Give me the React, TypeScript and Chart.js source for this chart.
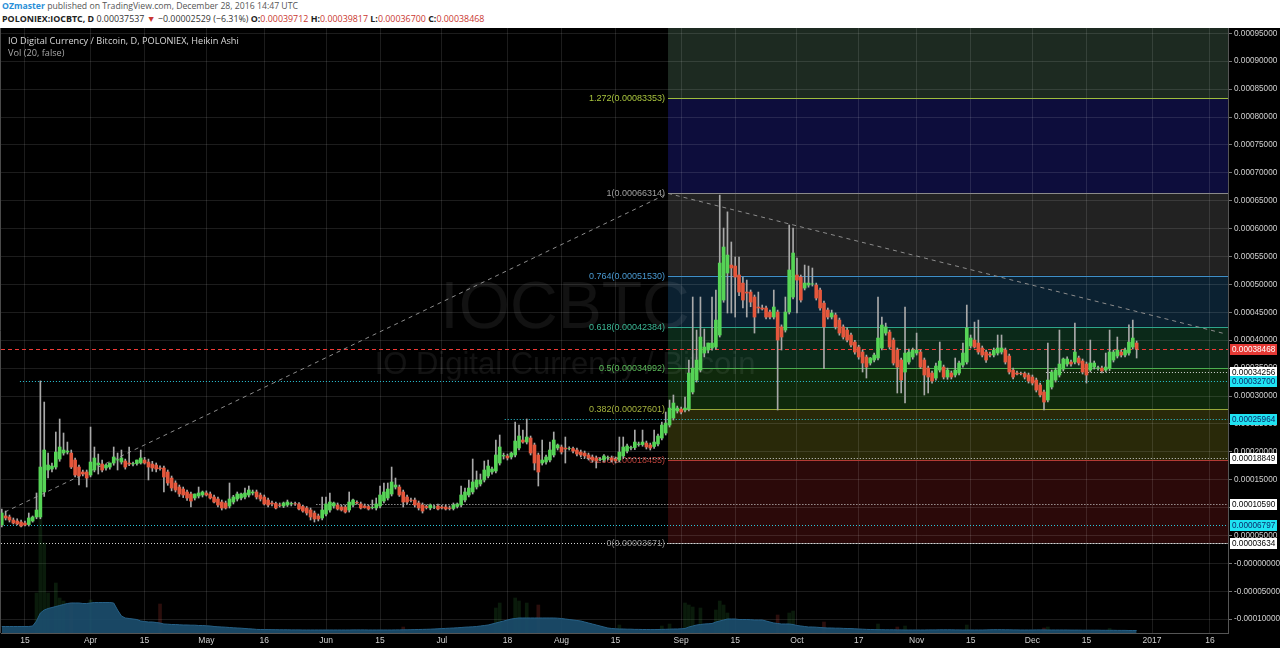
import React, { useEffect, useRef } from 'react';
import { Chart, registerables } from 'chart.js';

Chart.register(...registerables);

// ---------- data (values in satoshi; day index 0 = 2016-03-09) ----------
const haOpen = [
  6880, 8510, 8320, 7780, 7600, 7420, 7240, 6960, 7600, 8320,
  8320, 12800, 16740, 16920, 17270, 18710, 19780, 19960, 19780, 18530,
  17270, 16380, 16380, 15840, 16740, 17630, 17810, 17100, 17270, 17990,
  18530, 18170, 18350, 17990, 17810, 17900, 18000, 18530, 18170, 17810,
  17630, 17100, 17100, 16380, 15300, 14410, 13690, 13330, 12800, 12440,
  11720, 12080, 12260, 12620, 12440, 11900, 11540, 11000, 10830, 10290,
  11000, 11540, 11720, 11900, 12260, 12620, 12800, 12260, 11900, 11360,
  10830, 10740, 10470, 10290, 10470, 10650, 10700, 10650, 10200, 9930,
  9570, 9030, 8500, 8140, 8850, 9570, 10290, 10470, 10110, 10110,
  9570, 10470, 10920, 10650, 10290, 10200, 10000, 9930, 10290, 11180,
  11720, 12440, 13690, 13690, 12800, 11900, 11360, 11360, 10830, 10470,
  10200, 9930, 10100, 10290, 10110, 10110, 9930, 9840, 10200, 10470,
  11360, 12260, 12800, 13690, 14230, 14950, 15660, 16380, 16560, 17990,
  19250, 19250, 19070, 19430, 20680, 22110, 21750, 22470, 21220, 19430,
  17990, 18170, 18530, 19430, 20680, 20860, 20680, 20590, 20590, 20320,
  19960, 19780, 19430, 19070, 18890, 18620, 18530, 18900, 18900, 18710,
  18530, 19250, 20140, 20680, 20770, 21300, 21300, 21570, 21220, 20950,
  21400, 22470, 23370, 24800, 26060, 27310, 27660, 27490, 27660, 30720,
  32860, 34650, 37700, 38240, 38600, 38780, 40930, 47200, 52040, 53470,
  53290, 51680, 50240, 48630, 48630, 47740, 45950, 45770, 45770, 45050,
  44150, 45050, 42390, 41820, 45050, 47740, 51680, 51320, 49340, 49880,
  50060, 49880, 48990, 46650, 45410, 44150, 44510, 43610, 42390, 41820,
  40930, 39670, 38780, 37880, 36990, 35910, 36450, 36810, 38600, 41280,
  41460, 40030, 38240, 36450, 34300, 36090, 36990, 37700, 37880, 36450,
  35010, 34120, 33220, 34650, 35190, 33400, 34120, 33760, 34120, 35550,
  36090, 38960, 40030, 39490, 38600, 37880, 37520, 37340, 37700, 37880,
  38240, 37160, 34650, 34120, 34030, 34030, 33760, 33400, 32860, 31970,
  30720, 29280, 31610, 32860, 33760, 34830, 35730, 36090, 36090, 36810,
  36270, 35730, 34650, 35190, 35010, 35010, 34650, 34920, 36450, 37160,
  37880, 37340, 37700, 38780, 39490,
];
const haHigh = [
  9750, 9390, 8670, 8140, 8000, 7780, 7600, 9030, 8500, 12620,
  32700, 28920, 19780, 18000, 23550, 25880, 23370, 21750, 20320, 18890,
  17630, 16740, 16740, 24440, 20860, 19600, 18530, 17800, 18000, 20860,
  19780, 20320, 18700, 20860, 18170, 18530, 20320, 19000, 18700, 18300,
  18000, 17500, 17450, 16740, 15660, 14800, 14050, 13690, 13150, 12800,
  12440, 13690, 12980, 13000, 12800, 12260, 11900, 11360, 11180, 14410,
  12200, 12800, 12620, 13510, 13870, 13150, 13150, 12620, 12260, 11720,
  11180, 11000, 10830, 11000, 11360, 11000, 11000, 10900, 10470, 10200,
  9930, 9390, 8850, 11900, 11900, 12620, 11000, 10830, 10470, 10470,
  12800, 11540, 11200, 11000, 10650, 10470, 11360, 11720, 13870, 14410,
  14410, 17270, 15300, 14050, 13150, 12260, 11720, 11720, 11180, 10830,
  10470, 10650, 10400, 10650, 10400, 10470, 10290, 10830, 10830, 13870,
  13510, 14950, 18710, 16560, 16020, 18350, 18530, 17270, 22110, 23010,
  19780, 19600, 19960, 25340, 24800, 23900, 25880, 22830, 21570, 19780,
  22110, 19430, 21750, 23550, 21400, 21220, 22650, 20900, 20860, 20680,
  20320, 20140, 19780, 19430, 19250, 18980, 19500, 19250, 19250, 19070,
  22650, 22650, 21400, 21040, 23900, 21750, 23900, 21930, 21570, 23900,
  23200, 25340, 27130, 29280, 30180, 28200, 28020, 29820, 36450, 47740,
  41820, 47740, 42000, 39500, 47740, 48990, 66000, 60100, 63000, 57600,
  54900, 54900, 51320, 50780, 49000, 48100, 48630, 46300, 46100, 45400,
  48990, 45400, 42750, 47740, 60640, 60100, 54730, 51680, 53470, 53290,
  52940, 50240, 49340, 47000, 45770, 45400, 44870, 43970, 42750, 42200,
  41300, 40000, 39100, 38240, 37340, 36900, 37700, 47740, 44150, 43070,
  41820, 40390, 38600, 36810, 45950, 38400, 38600, 41280, 38240, 36810,
  35370, 34480, 35900, 39670, 35550, 35010, 34480, 36810, 36270, 39490,
  46300, 40930, 43250, 43610, 38960, 38240, 37880, 38600, 40930, 40930,
  38600, 37520, 35010, 34480, 34300, 34300, 34120, 33760, 33220, 32320,
  31070, 39490, 34650, 35010, 41820, 36810, 37000, 36450, 43070, 37160,
  36630, 36090, 40030, 36270, 35370, 35370, 37700, 41820, 38240, 40570,
  38240, 38600, 42750, 43610, 39850,
];
const haLow = [
  6520, 7780, 7420, 7060, 6900, 6520, 6700, 6700, 7400, 8000,
  8000, 12000, 15300, 16400, 16900, 18300, 19400, 19600, 17000, 15500,
  14050, 15700, 13690, 15500, 16400, 16020, 16400, 16700, 16900, 17600,
  16740, 17800, 16900, 17500, 17450, 17600, 17800, 17800, 14950, 16500,
  16400, 16700, 12800, 14000, 13000, 12800, 12000, 11800, 11300, 10110,
  11360, 11720, 11900, 12080, 11540, 10820, 10110, 9570, 9750, 9930,
  10650, 11180, 11360, 11540, 11900, 12260, 11540, 11180, 10470, 10110,
  10300, 9750, 10110, 10000, 10200, 10300, 10400, 9570, 9200, 8670,
  7780, 7420, 7600, 7780, 8500, 9200, 9900, 9570, 9390, 9030,
  9200, 10110, 10600, 9750, 9900, 9570, 9750, 9570, 9930, 10830,
  11360, 12080, 13330, 12000, 10110, 10650, 11000, 10110, 9570, 9030,
  9750, 9600, 9800, 9570, 9750, 9570, 9570, 9570, 9930, 10110,
  11000, 11900, 12440, 13330, 13870, 14590, 15300, 16000, 16200, 17630,
  18700, 18530, 18700, 19070, 20320, 21570, 21400, 19430, 16740, 13870,
  17630, 17800, 18170, 19070, 20320, 19600, 17990, 20320, 19800, 19250,
  19070, 18890, 18530, 18170, 17100, 18350, 18170, 18530, 18170, 17990,
  18170, 18890, 19780, 20320, 20400, 21000, 21000, 20500, 20320, 20600,
  21040, 22110, 23010, 24440, 25700, 26950, 26770, 27130, 27310, 30360,
  32500, 34300, 37000, 37700, 38200, 38400, 40570, 46800, 44870, 44870,
  44150, 48000, 45770, 44150, 46000, 41280, 44870, 45400, 43800, 43800,
  43800, 27490, 38240, 41460, 44700, 47400, 44870, 46830, 49000, 49500,
  49700, 47200, 45400, 34920, 43800, 43800, 42000, 40900, 40200, 39700,
  38800, 37500, 36600, 34300, 33220, 35550, 36090, 36450, 38240, 40900,
  38400, 35550, 30540, 30540, 28740, 35700, 36600, 37340, 34920, 30180,
  30540, 32320, 32860, 34300, 33050, 33000, 33050, 33400, 33760, 35190,
  35730, 38600, 38600, 37500, 37000, 36000, 37000, 37000, 37340, 37520,
  35730, 33940, 33050, 33760, 33760, 33050, 32320, 31970, 30720, 29820,
  27490, 28920, 31250, 32500, 33400, 34480, 35370, 35370, 35730, 35550,
  33940, 32320, 34300, 34830, 34650, 34120, 34300, 34560, 36090, 36810,
  36990, 36990, 37340, 38420, 36810,
];
const haClose = [
  9030, 8140, 7780, 7240, 7060, 6700, 6880, 8140, 8320, 9570,
  17270, 20320, 17630, 17450, 19960, 20860, 20320, 20140, 17270, 15840,
  15660, 16020, 15300, 18170, 18890, 17990, 16740, 17630, 17990, 19070,
  18600, 18890, 17270, 17810, 17900, 18530, 18890, 17990, 17270, 17100,
  16920, 17000, 15480, 14410, 13510, 13150, 12440, 12260, 11720, 11180,
  12440, 12620, 12800, 12260, 11720, 11000, 10470, 9930, 9930, 11540,
  11900, 12440, 12440, 12620, 13150, 12800, 11900, 11540, 10650, 10470,
  10650, 9930, 10400, 10830, 11000, 10740, 10650, 9750, 9390, 9030,
  8320, 7960, 7960, 9570, 10650, 11000, 10830, 9750, 9570, 9210,
  11000, 11360, 10830, 9930, 10000, 9750, 10050, 10650, 12260, 12800,
  13330, 14590, 14050, 12260, 11000, 11000, 11300, 10470, 9930, 9390,
  10000, 10470, 10110, 9750, 9930, 9750, 9840, 10470, 10650, 12260,
  12800, 13510, 14590, 14950, 14950, 16740, 17450, 16920, 19430, 20860,
  19350, 18890, 19780, 21930, 22830, 21750, 22650, 19780, 17990, 16380,
  18530, 19070, 20320, 22110, 21220, 19960, 20500, 20600, 20140, 19610,
  19430, 19250, 18890, 18530, 18350, 18650, 19250, 18950, 18530, 18350,
  19960, 20860, 21040, 20770, 21750, 21400, 21750, 20860, 20680, 21750,
  22830, 24800, 25160, 27840, 28740, 27840, 27130, 27840, 34120, 35010,
  36450, 40570, 38780, 39490, 39490, 43610, 53830, 56700, 55260, 52940,
  51320, 48630, 47200, 48450, 46830, 44150, 45770, 45590, 44150, 44150,
  45950, 40030, 40570, 45050, 52580, 55620, 50780, 47200, 50240, 50240,
  50100, 47560, 45770, 42390, 44150, 44870, 42390, 41280, 40570, 40030,
  39130, 37880, 36990, 35910, 35190, 36810, 37340, 40390, 42720, 42390,
  38780, 35910, 35190, 32860, 37700, 37880, 38240, 38240, 35190, 33760,
  33400, 32680, 35370, 36270, 33400, 34650, 33400, 34650, 35910, 37700,
  42210, 40390, 38780, 37880, 37340, 36450, 37340, 38240, 38600, 38600,
  36090, 34300, 33400, 33940, 34000, 33400, 32680, 32320, 31070, 30180,
  28920, 32860, 34300, 34650, 35730, 36630, 36630, 35730, 37880, 35910,
  34300, 33760, 35910, 35910, 35050, 34480, 35190, 37880, 37880, 38240,
  37340, 38240, 39670, 40390, 38470,
];

// volume moving average (20) per day, arbitrary units
const volumeMA = [
  65, 65, 65, 65, 65, 65, 65, 65, 70,
  120, 200, 230, 245, 255, 265, 275, 285,
  295, 300, 300, 300, 295, 295, 300, 305, 305, 305, 305, 305, 300,
  230, 170, 150, 145, 140, 135, 120, 115, 110, 110, 105, 100,
  90, 88, 85, 85, 82, 80, 80, 78, 78, 75, 75, 72, 70,
  65, 62, 60, 58, 55, 52, 50, 48, 45, 42, 40,
  36, 35, 34, 34, 33, 33, 32, 32, 32, 31, 31, 31, 30, 30, 30, 30, 30, 30, 30, 30,
  30, 30, 30, 30, 30, 31, 31, 31, 31, 30, 30, 30, 30,
  30, 30, 30, 31, 31, 32, 32, 33, 34, 35, 36, 37, 38, 40, 42, 44, 46, 48, 50, 52, 55,
  58, 60, 62, 65, 70, 75, 80, 90, 100, 110, 120,
  130, 140, 145, 150, 150, 150, 150,
  150, 150, 150, 150, 150, 150, 148, 145, 140, 135, 130, 125, 120,
  110, 100, 90, 80, 70, 60, 50,
  45, 42, 40, 40, 38, 38, 36, 36, 35, 35, 34, 34, 35, 36,
  37, 38, 40, 40, 42, 45,
  60, 70, 80, 85, 90, 92, 95,
  110, 120, 130, 140, 140, 140,
  135, 135, 135, 133, 130, 130, 130,
  120, 110, 100, 95, 90, 90, 90, 85,
  75, 70, 65, 60, 60, 58, 55,
  52, 50, 50, 48, 48, 46, 45, 44, 42, 40,
  38, 36, 35, 34, 33, 33, 32, 32, 32, 31, 31, 30, 30, 30, 30, 30, 30, 31, 31, 31,
  32, 32, 32, 32, 31, 31, 30, 30, 30, 30, 30, 30, 31, 32, 33, 33, 33, 32, 32, 31,
  31, 30, 30, 30, 30, 31, 31, 31, 30, 30, 30, 30, 30, 30, 29, 29, 29, 28, 28, 28,
  28, 28, 27, 27, 27, 27, 26, 26, 26, 25, 25, 25,
];
// daily volume bars that stand out above the average
const volDays = [9, 10, 11, 12, 14, 15, 16, 18, 23, 41, 104, 128, 129, 133, 134, 136, 139, 160, 171, 173,
  177, 178, 179, 181, 185, 186, 187, 188, 201, 204, 205, 213, 227, 232, 234, 250, 270, 271, 287];
const volValues = [400, 1200, 900, 400, 500, 350, 320, 300, 330, 290, 60, 250, 300, 350, 320, 300, 280, 80, 70, 90,
  300, 280, 260, 250, 230, 320, 280, 200, 180, 200, 220, 110, 90, 60, 70, 80, 50, 60, 45];

// Fibonacci retracement
const fibLevels = [0, 0.236, 0.382, 0.5, 0.618, 0.764, 1, 1.272];
const fibValues = [3671, 18455, 27601, 34992, 42384, 51530, 66314, 83353];
const fibStartDay = 172.6;

// horizontal lines with price-axis labels
const hLineValues = [38468, 34256, 32700, 25964, 18849, 10590, 6797, 3634];
const hLineStartDays = [-1, 270.5, 4.7, 130.3, 150, 81.5, -1, -1];
const hLineKinds = ['red', 'white', 'cyan', 'cyan', 'white', 'white', 'cyan', 'white'];

// trend lines [startDay, startValue, endDay, endValue]
const trendLines = [
  [0.8, 9210, 172.6, 66314],
  [172.6, 66314, 317.1, 41120],
];

// axes
const xTickDays = [6, 23, 37, 53, 68, 84, 98, 114, 131, 145, 159, 176, 190, 206, 222, 237, 251, 267, 281, 298, 313];
const xTickLabels = ['15', 'Apr', '15', 'May', '16', 'Jun', '15', 'Jul', '18', 'Aug', '15', 'Sep', '15', 'Oct', '17', 'Nov', '15', 'Dec', '15', '2017', '16'];
const yTickValues = [-10000, -5000, 0, 5000, 10000, 15000, 20000, 25000, 30000, 35000, 40000, 45000, 50000,
  55000, 60000, 65000, 70000, 75000, 80000, 85000, 90000, 95000];

// ---------- styles ----------
const GREEN = '#56d456';
const RED = '#e4573c';
const WICK = '#a9a9a9';
const AXIS_FONT = '"Liberation Sans", Arial, sans-serif';
const fibLineColors = ['#8a8a8a', '#b33a34', '#98a83a', '#4caf50', '#2ea58c', '#3f8fc8', '#8a8a8a', '#9fbe3c'];
const fibLabelColors = ['#8f8f8f', '#b8403a', '#a6b43e', '#5cbd5a', '#3cb896', '#4a9ad2', '#a0a0a0', '#a8c43e'];
const fibZoneColors = ['#2b0909', '#292909', '#0f290c', '#0b2919', '#0b2131', '#222222', '#0d0d3c', '#1d2a21'];
const kindStyle: Record<string, { line: string; bg: string; fg: string; dash: number[] }> = {
  red: { line: '#f03a36', bg: '#e53935', fg: '#ffffff', dash: [4, 3] },
  white: { line: '#d4d4d4', bg: '#ffffff', fg: '#000000', dash: [1, 2] },
  cyan: { line: '#2cc9dc', bg: '#1fe3f2', fg: '#0b2a6b', dash: [1, 2] },
};

const fmtPrice = (v: number) => (v === 0 ? '-0.00000000' : (v / 1e8).toFixed(8));

const decorPlugin = {
  id: 'tvDecor',
  beforeDraw(chart: any) {
    const { ctx, chartArea: ca, scales } = chart;
    const xs = scales.x;
    const ys = scales.y;
    ctx.save();
    ctx.fillStyle = '#000';
    ctx.fillRect(0, 0, chart.width, chart.height);
    ctx.beginPath();
    ctx.rect(ca.left, ca.top, ca.right - ca.left, ca.bottom - ca.top);
    ctx.clip();
    const fx = xs.getPixelForValue(fibStartDay);
    for (let k = 0; k < fibValues.length; k++) {
      const lo = ys.getPixelForValue(fibValues[k]);
      const hi = k + 1 < fibValues.length ? ys.getPixelForValue(fibValues[k + 1]) : ca.top;
      ctx.fillStyle = fibZoneColors[k];
      ctx.fillRect(fx, hi, ca.right - fx, lo - hi);
    }
    ctx.fillStyle = 'rgba(255,255,255,0.07)';
    ctx.textAlign = 'center';
    ctx.textBaseline = 'middle';
    ctx.font = '66px "Liberation Sans", Arial, sans-serif';
    ctx.fillText('IOCBTC', 565, 282);
    ctx.font = '31px "Liberation Sans", Arial, sans-serif';
    ctx.fillText('IO Digital Currency / Bitcoin', 565, 337);
    ctx.restore();
  },
  beforeDatasetsDraw(chart: any) {
    const { ctx, chartArea: ca, scales } = chart;
    const xs = scales.x;
    const ys = scales.y;
    ctx.save();
    ctx.beginPath();
    ctx.rect(ca.left, ca.top, ca.right - ca.left, ca.bottom - ca.top);
    ctx.clip();
    const fx = xs.getPixelForValue(fibStartDay);
    ctx.lineWidth = 1;
    ctx.font = '9px "Liberation Sans", Arial, sans-serif';
    ctx.textAlign = 'right';
    ctx.textBaseline = 'middle';
    for (let k = 0; k < fibValues.length; k++) {
      const py = Math.round(ys.getPixelForValue(fibValues[k])) + 0.5;
      ctx.strokeStyle = fibLineColors[k];
      ctx.setLineDash([]);
      ctx.beginPath();
      ctx.moveTo(fx, py);
      ctx.lineTo(ca.right, py);
      ctx.stroke();
      ctx.fillStyle = fibLabelColors[k];
      ctx.fillText(`${fibLevels[k]}(${(fibValues[k] / 1e8).toFixed(8)})`, fx - 3, py);
    }
    for (let k = 0; k < hLineValues.length; k++) {
      const st = kindStyle[hLineKinds[k]];
      const py = Math.round(ys.getPixelForValue(hLineValues[k])) + 0.5;
      const sx = Math.max(ca.left, xs.getPixelForValue(hLineStartDays[k]));
      ctx.strokeStyle = st.line;
      ctx.setLineDash(st.dash);
      ctx.beginPath();
      ctx.moveTo(sx, py);
      ctx.lineTo(ca.right, py);
      ctx.stroke();
    }
    ctx.strokeStyle = '#8c8c8c';
    ctx.setLineDash([4, 4]);
    for (const t of trendLines) {
      ctx.beginPath();
      ctx.moveTo(xs.getPixelForValue(t[0]), ys.getPixelForValue(t[1]));
      ctx.lineTo(xs.getPixelForValue(t[2]), ys.getPixelForValue(t[3]));
      ctx.stroke();
    }
    ctx.restore();
  },
  afterDraw(chart: any) {
    const { ctx, chartArea: ca, scales } = chart;
    const ys = scales.y;
    ctx.save();
    ctx.strokeStyle = '#4a4a4a';
    ctx.lineWidth = 1;
    ctx.beginPath();
    ctx.moveTo(0.5, ca.top);
    ctx.lineTo(0.5, ca.bottom);
    ctx.stroke();
    ctx.font = '8.2px ' + AXIS_FONT;
    ctx.textAlign = 'left';
    ctx.textBaseline = 'middle';
    for (let k = 0; k < hLineValues.length; k++) {
      const st = kindStyle[hLineKinds[k]];
      const py = Math.round(ys.getPixelForValue(hLineValues[k]));
      ctx.fillStyle = st.bg;
      ctx.fillRect(ca.right + 2, py - 5, 47, 11);
      ctx.fillStyle = st.fg;
      ctx.fillText(fmtPrice(hLineValues[k]), ca.right + 4, py + 0.5);
    }
    ctx.font = '9.2px "Open Sans", sans-serif';
    ctx.fillStyle = '#d8d8d8';
    ctx.fillText('IO Digital Currency / Bitcoin, D, POLONIEX, Heikin Ashi', 8, 13);
    ctx.fillStyle = '#a8a8a8';
    ctx.fillText('Vol (20, false)', 8, 25);
    ctx.restore();
  },
};

export default function App() {
  const ref = useRef<HTMLCanvasElement | null>(null);

  useEffect(() => {
    document.body.style.margin = '0';
    if (!ref.current) return;
    const bodyData = haOpen.map((o, i) => ({ x: i, y: [o, haClose[i]] }));
    const wickData = haOpen.map((_, i) => ({ x: i, y: [haLow[i], haHigh[i]] }));
    const bodyColors = haOpen.map((o, i) => (haClose[i] >= o ? GREEN : RED));
    const maData = volumeMA.map((v, i) => ({ x: i, y: v }));
    const volData = volDays.map((d, k) => ({ x: d, y: volValues[k] }));
    const volColors = volDays.map((d) =>
      haClose[d] >= haOpen[d] ? 'rgba(60,170,70,0.16)' : 'rgba(220,70,60,0.2)'
    );

    const chart = new Chart(ref.current, {
      type: 'bar',
      data: {
        datasets: [
          { type: 'bar', data: bodyData as any, backgroundColor: bodyColors, barThickness: 3, grouped: false, order: 0, yAxisID: 'y' } as any,
          { type: 'bar', data: wickData as any, backgroundColor: WICK, barThickness: 1, grouped: false, order: 1, yAxisID: 'y' } as any,
          {
            type: 'line',
            data: maData as any,
            borderColor: 'rgb(38,96,134)',
            borderWidth: 1,
            backgroundColor: 'rgba(27,77,108,0.92)',
            fill: 'origin',
            pointRadius: 0,
            tension: 0,
            order: 3,
            yAxisID: 'yv',
          } as any,
          { type: 'bar', data: volData as any, backgroundColor: volColors, barThickness: 3, grouped: false, order: 4, yAxisID: 'yv' } as any,
        ],
      },
      options: {
        responsive: false,
        maintainAspectRatio: false,
        devicePixelRatio: 1,
        animation: false,
        events: [],
        layout: { padding: { left: 1, right: 0, top: 0, bottom: 0 } },
        plugins: { legend: { display: false }, tooltip: { enabled: false } },
        scales: {
          x: {
            type: 'linear',
            min: -0.2,
            max: 317.67,
            offset: false,
            afterBuildTicks: (s: any) => {
              s.ticks = xTickDays.map((v) => ({ value: v }));
            },
            afterFit: (s: any) => {
              s.height = 15;
              s.paddingLeft = 0;
              s.paddingRight = 0;
              s.paddingTop = 0;
              s.paddingBottom = 0;
            },
            ticks: {
              autoSkip: false,
              maxRotation: 0,
              padding: 3,
              color: '#d0d0d0',
              font: { family: AXIS_FONT, size: 8.5 },
              callback: (_v: any, i: number) => xTickLabels[i],
            },
            grid: { color: 'rgba(255,255,255,0.11)', drawTicks: false, offset: false },
            border: { color: '#555555' },
          },
          y: {
            type: 'linear',
            position: 'right',
            min: -12470,
            max: 95950,
            afterBuildTicks: (s: any) => {
              s.ticks = yTickValues.map((v) => ({ value: v }));
            },
            afterFit: (s: any) => {
              s.width = 52;
              s.paddingTop = 0;
              s.paddingBottom = 0;
              s.paddingLeft = 0;
              s.paddingRight = 0;
            },
            ticks: {
              padding: 2,
              color: '#d0d0d0',
              font: { family: AXIS_FONT, size: 8.2 },
              callback: (v: any) => fmtPrice(Number(v)),
            },
            grid: { color: 'rgba(255,255,255,0.11)', tickLength: 4, tickColor: '#777777' },
            border: { color: '#555555' },
          },
          yv: { type: 'linear', display: false, min: 0, max: 6050 },
        },
      } as any,
      plugins: [decorPlugin],
    });
    return () => chart.destroy();
  }, []);

  const red = '#c9362f';
  return (
    <div style={{ width: 1280, height: 648, overflow: 'hidden', background: '#000' }}>
      <div
        style={{
          height: 28,
          background: '#fff',
          fontFamily: '"Open Sans", sans-serif',
          lineHeight: '12.5px',
          padding: '0 0 0 2px',
          boxSizing: 'border-box',
          color: '#555',
          whiteSpace: 'nowrap',
        }}
      >
        <div style={{ fontSize: 8.7 }}>
          <span style={{ color: '#2a8fd8', fontWeight: 700 }}>OZmaster</span> published on TradingView.com, December 28, 2016 14:47 UTC
        </div>
        <div style={{ color: '#333', fontSize: 8.9 }}>
          <b style={{ color: '#222' }}>POLONIEX:IOCBTC, D</b> 0.00037537 <span style={{ color: red }}>▼</span> −0.00002529 (−6.31%){' '}
          <b style={{ color: '#222' }}>O:</b><span style={{ color: red }}>0.00039712</span>{' '}
          <b style={{ color: '#222' }}>H:</b><span style={{ color: red }}>0.00039817</span>{' '}
          <b style={{ color: '#222' }}>L:</b><span style={{ color: red }}>0.00036700</span>{' '}
          <b style={{ color: '#222' }}>C:</b><span style={{ color: red }}>0.00038468</span>
        </div>
      </div>
      <canvas ref={ref} width={1280} height={620} style={{ display: 'block' }} />
    </div>
  );
}
